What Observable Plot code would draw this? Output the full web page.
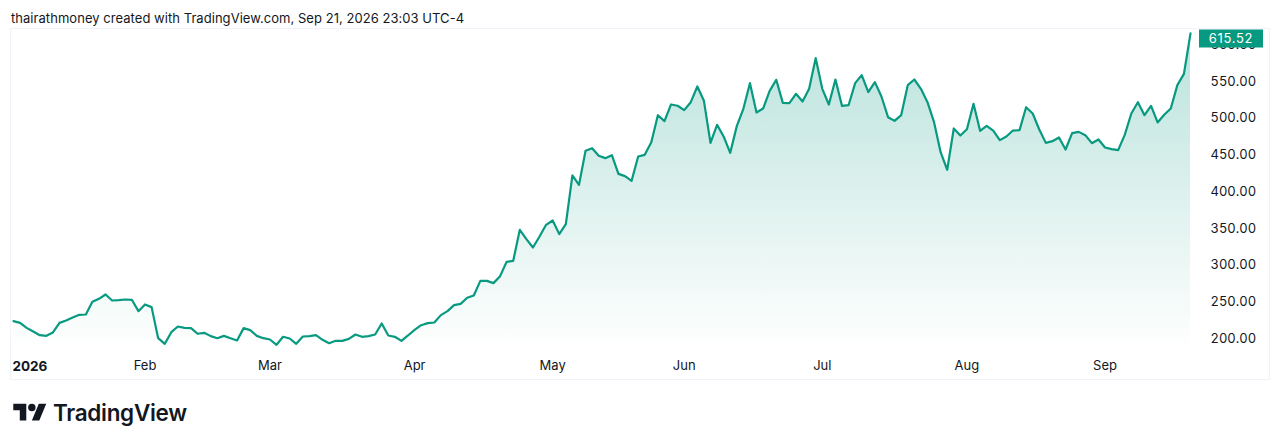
<!DOCTYPE html>
<html>
<head>
<meta charset="utf-8">
<script src="https://cdn.jsdelivr.net/npm/d3@7"></script>
<script src="https://cdn.jsdelivr.net/npm/@observablehq/plot@0.6"></script>
<style>
  html, body { margin: 0; padding: 0; background: #fff; width: 1280px; height: 445px; overflow: hidden; }
  body { position: relative; font-family: Inter, "Liberation Sans", sans-serif; color: #131722; }
  #title { position: absolute; left: 11px; top: 10px; font-size: 13px; letter-spacing: 0.045px; line-height: 16px; white-space: nowrap; }
  #chart { position: absolute; left: 11px; top: 29px; width: 1258px; height: 350px; box-sizing: content-box; outline: 1px solid #f0f3fa; }
  #chart svg { display: block; }
  #brand { position: absolute; left: 13px; top: 399px; display: flex; align-items: center; gap: 6px; font-size: 22.5px; font-weight: 600; letter-spacing: -0.3px; line-height: 28px; color: #131722; }
</style>
</head>
<body>
<div id="title">thairathmoney created with TradingView.com, Sep 21, 2026 23:03 UTC-4</div>
<div id="chart"></div>
<div id="brand">
  <svg width="34" height="26" viewBox="0 0 36 28"><path fill="#131722" d="M14 22H7V11H0V4h14v18ZM28 22h-8l7.5-18h8L28 22Z"/><circle fill="#131722" cx="20" cy="8" r="4"/></svg>
  <span>TradingView</span>
</div>
<script>
const closes = [
  223.6,221.3,214.5,209.5,204.5,203.6,208.2,221.3,224.5,228.6,
  232.2,232.7,249.9,254.0,259.9,251.7,252.2,253.1,252.7,237.2,
  246.3,242.7,200.4,192.7,208.6,216.3,214.5,214.1,206.4,207.7,
  203.2,200.4,203.6,200.4,197.3,214.1,211.4,203.6,200.4,198.6,
  191.4,202.3,200.0,192.7,202.7,203.2,204.5,198.2,193.6,196.8,
  196.8,199.5,205.4,202.3,203.2,205.4,220.4,204.1,202.3,196.8,
  204.1,211.8,218.1,220.9,221.8,231.8,237.2,245.4,247.2,255.4,
  258.6,278.5,278.5,275.4,284.9,304.4,305.8,348.0,335.3,323.9,
  338.9,354.8,360.7,342.1,355.7,422.0,409.2,455.6,459.2,448.8,
  445.6,449.7,424.2,421.1,414.7,447.8,450.1,467.4,504.1,496.0,
  518.7,516.9,511.0,521.8,543.2,523.7,466.5,491.0,475.1,452.8,
  489.2,512.8,547.7,507.8,513.2,537.3,552.3,520.9,520.5,533.2,
  522.7,540.0,581.8,540.0,518.6,552.7,516.8,517.7,547.7,558.6,
  535.5,549.1,529.5,501.4,496.4,504.1,545.0,552.7,540.0,521.8,
  494.6,453.7,429.7,486.0,476.4,485.0,519.6,482.8,489.6,483.2,
  470.1,475.1,483.2,483.7,515.0,506.4,484.6,466.4,468.7,473.7,
  457.4,479.6,481.4,476.9,466.0,471.0,460.1,457.8,456.5,477.3,
  506.4,521.8,504.1,516.8,494.2,504.6,513.2,545.0,560.4,615.52
];
const sessions = closes.map((_, i) => i);
const monthSessions = [20, 39, 61, 82, 102, 123, 145, 166];
const monthLabels = ["Feb", "Mar", "Apr", "May", "Jun", "Jul", "Aug", "Sep"];
const yearLabel = ["2026"];
const priceTicks = [200, 250, 300, 350, 400, 450, 500, 550, 600];
const priceFloor = 185;
const priceCeil = 620.8;
const rows = sessions.map((s, i) => ({session: s, close: closes[i]}));
const green = "#089981";

const gradient = () => {
  const defs = d3.create("svg:defs");
  const g = defs.append("linearGradient").attr("id", "fade").attr("x1", 0).attr("x2", 0).attr("y1", 0).attr("y2", 1);
  g.append("stop").attr("offset", "0%").attr("stop-color", green).attr("stop-opacity", 0.28);
  g.append("stop").attr("offset", "100%").attr("stop-color", green).attr("stop-opacity", 0);
  return defs.node();
};

const badge = (index, scales) => {
  const last = closes[closes.length - 1];
  const left = scales.x(sessions[sessions.length - 1]) + 9;
  const g = d3.create("svg:g");
  g.append("rect").attr("x", left).attr("y", 0.5).attr("width", 64).attr("height", 18).attr("fill", green);
  g.append("text").attr("x", left + 32).attr("y", 9.5).attr("dy", "0.36em").attr("text-anchor", "middle")
    .attr("fill", "#fff").attr("font-size", 13).attr("letter-spacing", 0.7).text(d3.format(".2f")(last));
  return g.node();
};

const chart = Plot.plot({
  width: 1258,
  height: 350,
  marginLeft: 2,
  marginRight: 79,
  marginTop: 0,
  marginBottom: 30,
  style: {fontFamily: "Inter, 'Liberation Sans', sans-serif", fontSize: "13px", color: "#131722", background: "#fff"},
  x: {domain: [0, sessions.length - 1]},
  y: {domain: [priceFloor, priceCeil]},
  marks: [
    gradient,
    Plot.areaY(rows, {x: "session", y1: priceFloor, y2: "close", fill: "url(#fade)"}),
    Plot.axisY({anchor: "right", ticks: priceTicks, tickSize: 0, tickPadding: 20, tickFormat: d3.format(".2f"), label: null, fill: "#131722"}),
    Plot.axisX({ticks: monthSessions, tickSize: 0, tickPadding: 11, tickFormat: d => monthLabels[monthSessions.indexOf(d)], label: null, fill: "#131722"}),
    Plot.text(yearLabel, {x: sessions[0], frameAnchor: "bottom", lineAnchor: "middle", dy: 17, dx: -1, textAnchor: "start", text: d => d, fontWeight: 700, fontSize: 13.5, fill: "#131722", letterSpacing: 0.5}),
    Plot.line(rows, {x: "session", y: "close", stroke: green, strokeWidth: 2.2, curve: "linear"}),
    badge
  ]
});
document.getElementById("chart").appendChild(chart);
</script>
</body>
</html>
